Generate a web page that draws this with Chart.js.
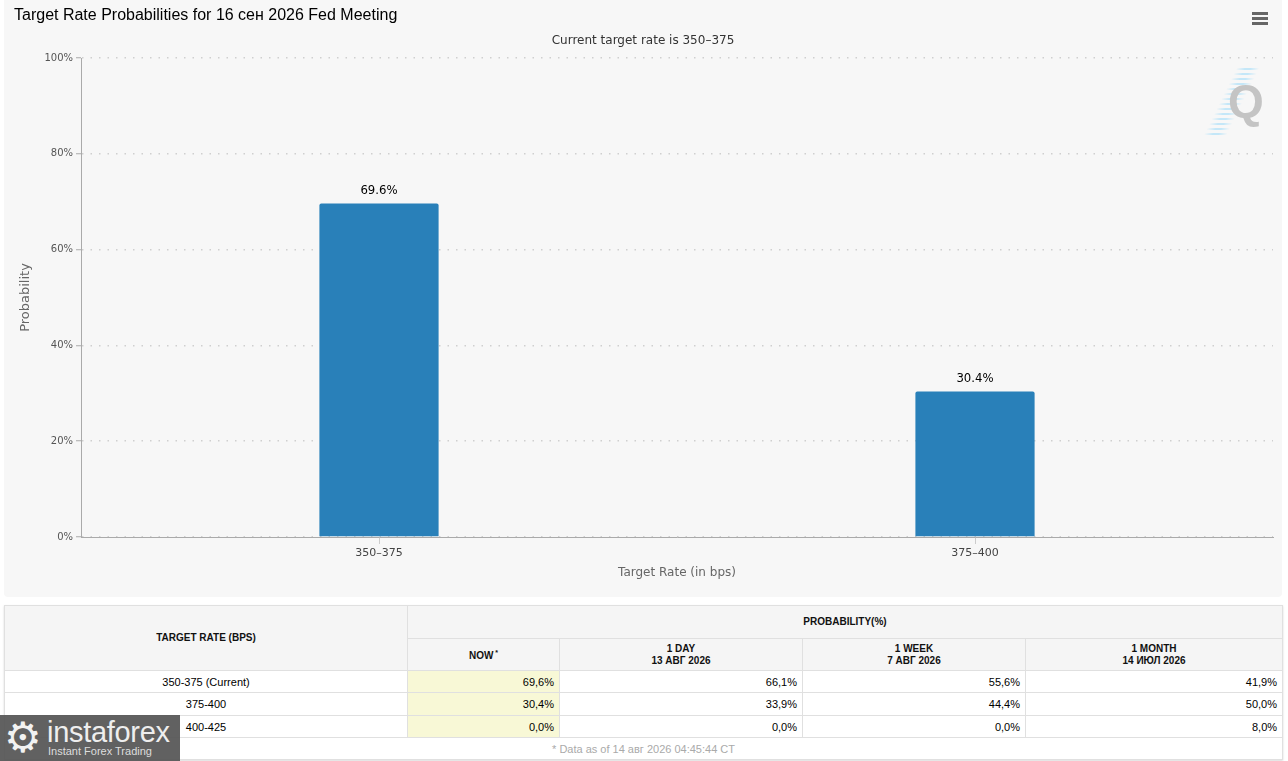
<!DOCTYPE html>
<html>
<head>
<meta charset="utf-8">
<script src="https://cdn.jsdelivr.net/npm/chart.js@4"></script>
<style>
  body { margin: 0; width: 1288px; height: 761px; background: #fff; overflow: hidden; position: relative; font-family: "Liberation Sans", Arial, sans-serif; }
  #panel { position: absolute; left: 4px; top: 0; width: 1278px; height: 597px; background: #f7f7f7; border-radius: 0 0 4px 4px; }
  #panel canvas { position: absolute; left: 0; top: 0; }
  #title { position: absolute; left: 10px; top: 6px; font-size: 16px; line-height: 18px; color: #000; }
  #subtitle { position: absolute; left: 0; width: 100%; top: 33px; text-align: center; font: 12px "DejaVu Sans", sans-serif; color: #333; }
  #menu { position: absolute; left: 1248px; top: 12px; width: 16px; }
  #menu div { height: 3px; background: #666; margin-bottom: 2px; }
  #qlogo { position: absolute; left: 1200px; top: 66px; width: 66px; height: 72px; }
  #qlogo .stripes { position: absolute; left: 16px; top: 2px; width: 24px; height: 68px;
    background: repeating-linear-gradient(to bottom, #c4e7f8 0 2px, transparent 2px 5px);
    transform: skewX(-26deg);
    -webkit-mask-image: linear-gradient(to right, transparent, #000 35%, #000 60%, transparent 95%); }
  #qlogo .q { position: absolute; left: 24px; top: 8px; font: bold 46px "Liberation Sans", Arial, sans-serif; color: #c4c4c4; }
  table { position: absolute; left: 4px; top: 605px; width: 1278px; border-collapse: collapse; table-layout: fixed; font-size: 11px; color: #000; box-shadow: 0 1px 2px rgba(0,0,0,0.15); }
  td, th { border: 1px solid #e0e0e0; padding: 0 5px; }
  th { background: #f5f5f5; font-weight: bold; font-size: 10px; text-align: center; line-height: 12px; color: #111; }
  td.rate { text-align: center; }
  td.num { text-align: right; }
  td.now { background: #f8f8d6; }
  td.foot { text-align: center; color: #aaa; }
  #insta { position: absolute; left: 0; top: 715px; width: 180px; height: 46px; background: rgba(85,85,85,0.93); color: #eee; }
  #insta .gear { position: absolute; left: 4px; top: 0; font: 42px "DejaVu Sans", sans-serif; line-height: 46px; color: #f2f2f2; }
  #insta .big { position: absolute; left: 47px; top: 1px; font-size: 29px; line-height: 32px; letter-spacing: -0.3px; }
  #insta .small { position: absolute; left: 48px; top: 30px; font-size: 11px; line-height: 13px; color: #ddd; }
</style>
</head>
<body>
<div id="panel">
  <canvas id="rate-chart" width="1278" height="597"></canvas>
  <div id="title">Target Rate Probabilities for 16 сен 2026 Fed Meeting</div>
  <div id="subtitle">Current target rate is 350–375</div>
  <div id="menu"><div></div><div></div><div></div></div>
  <div id="qlogo"><div class="stripes"></div><div class="q">Q</div></div>
</div>
<table id="prob-table"></table>
<div id="insta"><span class="gear">⚙</span><span class="big">instaforex</span><span class="small">Instant Forex Trading</span></div>

<script>
// Chart data
const rateLabels = ['350–375', '375–400'];
const probabilities = [69.6, 30.4];
const yTicks = [0, 20, 40, 60, 80, 100];

// Table data
const tableRates = ['350-375 (Current)', '375-400', '400-425'];
const nowValues = [69.6, 30.4, 0.0];
const dayValues = [66.1, 33.9, 0.0];
const weekValues = [55.6, 44.4, 0.0];
const monthValues = [41.9, 50.0, 8.0];
const headerPeriods = ['NOW', '1 DAY', '1 WEEK', '1 MONTH'];
const headerDates = ['', '13 АВГ 2026', '7 АВГ 2026', '14 ИЮЛ 2026'];
const footNote = '* Data as of 14 авг 2026 04:45:44 CT';

// Draw value labels above the bars
const barLabels = {
    id: 'barLabels',
    afterDatasetsDraw(chart) {
        const ctx = chart.ctx;
        const meta = chart.getDatasetMeta(0);
        ctx.save();
        ctx.font = '13px "DejaVu Sans Condensed", "DejaVu Sans", sans-serif';
        ctx.fillStyle = '#000';
        ctx.textAlign = 'center';
        ctx.textBaseline = 'middle';
        meta.data.forEach((bar, i) => {
            ctx.fillText(probabilities[i].toFixed(1) + '%', bar.x, bar.y - 13);
        });
        ctx.restore();
    }
};

const ctx = document.getElementById('rate-chart').getContext('2d');
const rateChart = new Chart(ctx, {
    type: 'bar',
    data: {
        labels: rateLabels,
        datasets: [{
            data: probabilities,
            backgroundColor: '#2980b9',
            borderRadius: 2,
            barPercentage: 0.2,
            categoryPercentage: 1
        }]
    },
    options: {
        responsive: false,
        animation: false,
        layout: { padding: { left: 0, right: 9, top: 58, bottom: 0 } },
        plugins: {
            legend: { display: false },
            tooltip: { enabled: false }
        },
        scales: {
            x: {
                grid: {
                    drawOnChartArea: false,
                    offset: false,
                    tickLength: 7,
                    tickColor: '#ccc'
                },
                border: { color: '#aaa' },
                ticks: {
                    color: '#444',
                    padding: 3,
                    font: { family: 'DejaVu Sans', size: 11 }
                },
                title: {
                    display: true,
                    text: 'Target Rate (in bps)',
                    color: '#666',
                    font: { family: 'DejaVu Sans', size: 12 },
                    padding: { top: 4, bottom: 17 }
                },
                afterFit(scale) { scale.height = 60; }
            },
            y: {
                min: 0,
                max: 100,
                afterBuildTicks(scale) { scale.ticks = yTicks.map(v => ({ value: v })); },
                grid: {
                    color: '#cfcfcf',
                    lineWidth: 1.5,
                    tickColor: '#aaa',
                    tickLength: 5,
                    tickBorderDash: [],
                    tickWidth: 1
                },
                border: { color: '#aaa', dash: [1.5, 7] },
                ticks: {
                    color: '#555',
                    padding: 3,
                    font: { family: 'DejaVu Sans', size: 10 },
                    callback: v => v + '%'
                },
                title: {
                    display: true,
                    text: 'Probability',
                    color: '#666',
                    font: { family: 'DejaVu Sans', size: 13 },
                    padding: { top: 14, bottom: 0 }
                },
                afterFit(scale) { scale.width = 77; }
            }
        }
    },
    plugins: [barLabels]
});

// Build the probability table
function fmt(v) {
    return v.toFixed(1).replace('.', ',') + '%';
}

const table = document.getElementById('prob-table');
let html = '<colgroup><col style="width:403px"><col style="width:152px"><col style="width:243px"><col style="width:223px"><col style="width:257px"></colgroup>';
html += '<tr style="height:33px"><th rowspan="2">TARGET RATE (BPS)</th><th colspan="4">PROBABILITY(%)</th></tr>';
html += '<tr style="height:32px">';
headerPeriods.forEach((p, i) => {
    if (i === 0) {
        html += '<th>' + p + '<sup style="font-size:7px;vertical-align:4px"> *</sup></th>';
    } else {
        html += '<th>' + p + '<br>' + headerDates[i] + '</th>';
    }
});
html += '</tr>';
tableRates.forEach((r, i) => {
    const h = i === 1 ? 23 : 22;
    html += '<tr style="height:' + h + 'px"><td class="rate">' + r + '</td>' +
        '<td class="num now">' + fmt(nowValues[i]) + '</td>' +
        '<td class="num">' + fmt(dayValues[i]) + '</td>' +
        '<td class="num">' + fmt(weekValues[i]) + '</td>' +
        '<td class="num">' + fmt(monthValues[i]) + '</td></tr>';
});
html += '<tr style="height:22px"><td class="foot" colspan="5">' + footNote + '</td></tr>';
table.innerHTML = html;
</script>
</body>
</html>
